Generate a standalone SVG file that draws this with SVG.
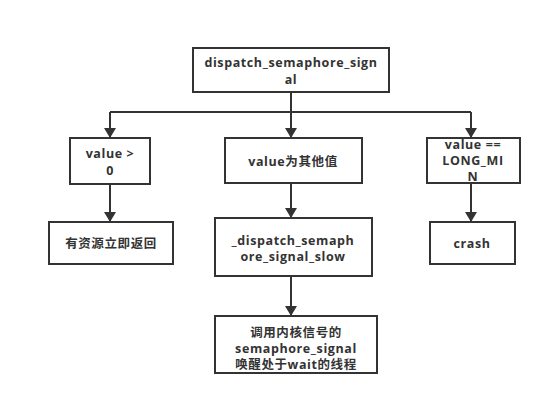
<svg xmlns="http://www.w3.org/2000/svg" width="551" height="407" viewBox="0 0 551 407">
<defs>
<marker id="arr" markerWidth="10" markerHeight="12" refX="10" refY="6" orient="auto" markerUnits="userSpaceOnUse">
<path d="M0,0 L10,6 L0,12 Z" fill="#333"/>
</marker>
<style>
.box{fill:#fff;stroke:#333;stroke-width:2}
.t{font-family:"Open Sans","Noto Sans CJK SC",sans-serif;font-weight:bold;font-size:12.5px;letter-spacing:0.6px;fill:#333;text-anchor:middle}
.c{fill:none;stroke:#333;stroke-width:2}
</style>
</defs>
<rect width="551" height="407" fill="#fff"/>
<g id="connectors">
<path class="c" d="M291,92 V112 M110,112 H471"/>
<path class="c" d="M110,112 V138" marker-end="url(#arr)"/>
<path class="c" d="M291,112 V138" marker-end="url(#arr)"/>
<path class="c" d="M471,112 V138" marker-end="url(#arr)"/>
<path class="c" d="M110,184 V222" marker-end="url(#arr)"/>
<path class="c" d="M291,183 V218" marker-end="url(#arr)"/>
<path class="c" d="M291,276 V316" marker-end="url(#arr)"/>
<path class="c" d="M471,183 V222" marker-end="url(#arr)"/>
</g>
<g id="n_top">
<rect class="box" x="193" y="48" width="196" height="44"/>
<text class="t" x="291" y="67">dispatch_semaphore_sign</text>
<text class="t" x="291" y="84">al</text>
</g>
<g id="n_gt0">
<rect class="box" x="70" y="138" width="80" height="46"/>
<text class="t" x="110" y="158">value &gt;</text>
<text class="t" x="110" y="175">0</text>
</g>
<g id="n_other">
<rect class="box" x="225" y="138" width="137" height="45"/>
<text class="t" x="293" y="166">value为其他值</text>
</g>
<g id="n_min">
<rect class="box" x="427" y="138" width="93" height="45"/>
<text class="t" x="473" y="149">value ==</text>
<text class="t" x="473" y="165">LONG_MI</text>
<text class="t" x="473" y="181">N</text>
</g>
<g id="n_return">
<rect class="box" x="49" y="222" width="124" height="42"/>
<text class="t" x="111" y="248">有资源立即返回</text>
</g>
<g id="n_slow">
<rect class="box" x="215" y="218" width="157" height="58"/>
<text class="t" x="293" y="245">_dispatch_semaph</text>
<text class="t" x="293" y="261">ore_signal_slow</text>
</g>
<g id="n_crash">
<rect class="box" x="430" y="222" width="85" height="42"/>
<text class="t" x="472" y="248">crash</text>
</g>
<g id="n_kernel">
<rect class="box" x="215" y="316" width="162" height="57"/>
<text class="t" x="296" y="337">调用内核信号的</text>
<text class="t" x="296" y="353">semaphore_signal</text>
<text class="t" x="296" y="369">唤醒处于wait的线程</text>
</g>
</svg>
